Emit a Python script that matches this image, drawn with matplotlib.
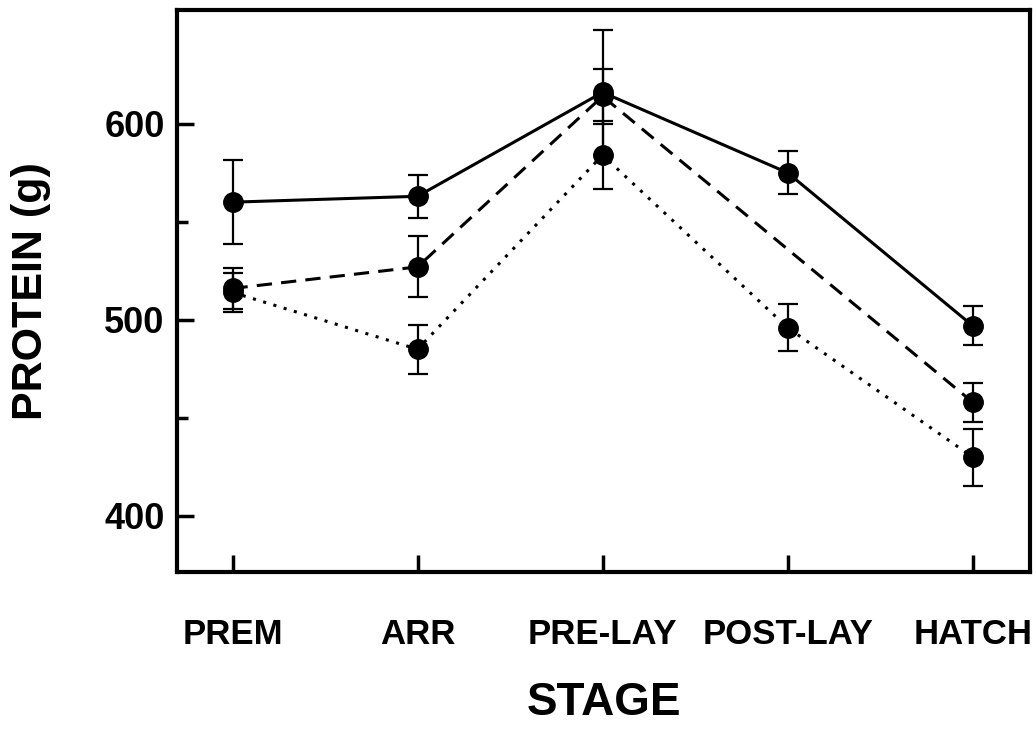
import matplotlib
matplotlib.use("Agg")
import matplotlib.pyplot as plt
import numpy as np

stages = ["PREM", "ARR", "PRE-LAY", "POST-LAY", "HATCH"]

solid_x = [0, 1, 2, 3, 4]
solid_y = [560, 563, 616, 575, 497]
solid_err = [21.5, 11, 32, 11, 10]

dashed_x = [0, 1, 2, 4]
dashed_y = [516, 527, 614, 458]
dashed_err = [10.5, 15.5, 14, 10]

dotted_x = [0, 1, 2, 3, 4]
dotted_y = [514, 485, 584, 496, 430]
dotted_err = [10, 12.5, 17.5, 12, 14.5]

fam = ['Liberation Sans', 'DejaVu Sans']
plt.rcParams['font.family'] = fam
plt.rcParams['font.weight'] = 'bold'

fig = plt.figure(figsize=(10.36, 7.29), dpi=100)
ax = fig.add_axes([177/1036, 1 - 572/729, (1030-177)/1036, (572-10)/729])

common = dict(color='black', marker='o', markersize=14, ecolor='black',
              elinewidth=1.6, capsize=7.5, capthick=1.6, lw=2.2)
ax.errorbar(solid_x, solid_y, yerr=solid_err, linestyle='-', **common)
ax.errorbar(dashed_x, dashed_y, yerr=dashed_err, linestyle=(0, (5, 3)), **common)
ax.errorbar(dotted_x, dotted_y, yerr=dotted_err, linestyle=(0, (1, 2.5)), **common)

ax.set_xlim(-0.30, 4.31)
ax.set_ylim(371.4, 658)
ax.set_xticks(range(len(stages)))
ax.set_xticklabels(stages, fontsize=25, fontweight='bold')
ax.set_yticks([400, 500, 600])
ax.set_yticks([450, 550], minor=True)
ax.set_yticklabels(['400', '500', '600'], fontsize=26, fontweight='bold')
ax.tick_params(axis='both', which='major', direction='in', length=12, width=2.5)
ax.tick_params(axis='y', which='minor', direction='in', length=8, width=2.5)
ax.tick_params(axis='x', pad=33)
ax.tick_params(axis='y', pad=9)
for s in ax.spines.values():
    s.set_linewidth(3)

ax.set_xlabel('STAGE', fontsize=33, fontweight='bold', labelpad=22)
ax.set_ylabel('PROTEIN (g)', fontsize=31, fontweight='bold', labelpad=38)

fig.savefig('out.png', dpi=100)
